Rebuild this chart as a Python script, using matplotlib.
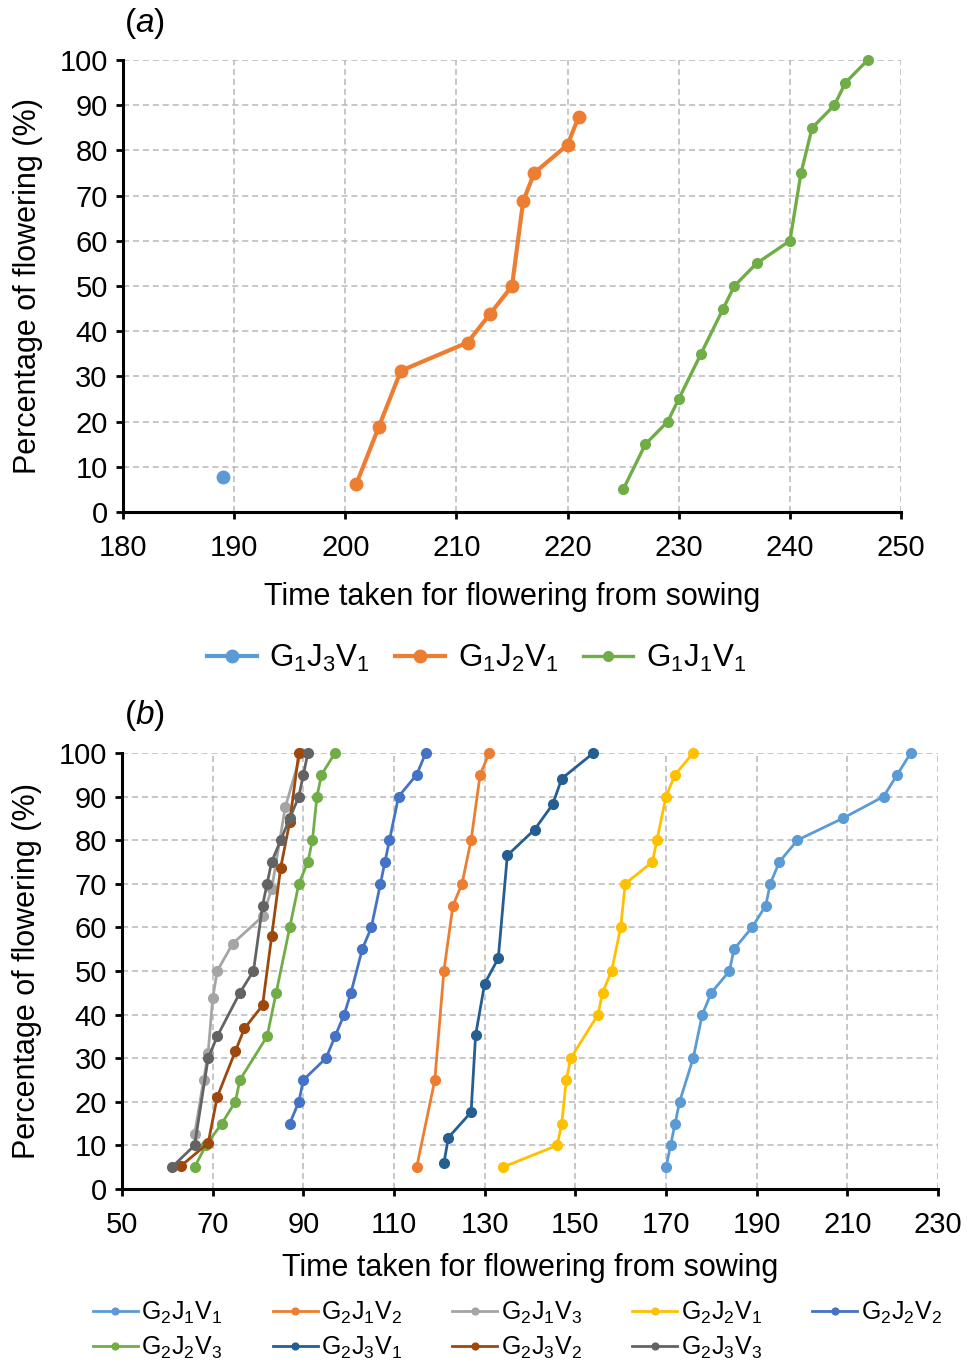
import matplotlib
matplotlib.use("Agg")
import matplotlib.pyplot as plt

plt.rcParams['font.family'] = ['Liberation Sans', 'DejaVu Sans']
plt.rcParams['mathtext.fontset'] = 'custom'
plt.rcParams['mathtext.rm'] = 'Liberation Sans'
plt.rcParams['mathtext.it'] = 'Liberation Sans:italic'
plt.rcParams['mathtext.default'] = 'regular'

# ---- panel (a) data ----
a_labels = [r'G$_1$J$_3$V$_1$', r'G$_1$J$_2$V$_1$', r'G$_1$J$_1$V$_1$']
a_colors = ['#5B9BD5', '#ED7D31', '#70AD47']
g1j3v1_days = [189]
g1j3v1_pct = [7.7]
g1j2v1_days = [201, 203, 205, 211, 213, 215, 216, 217, 220, 221]
g1j2v1_pct = [6.25, 18.75, 31.25, 37.5, 43.75, 50, 68.75, 75, 81.25, 87.5]
g1j1v1_days = [225, 227, 229, 230, 232, 234, 235, 237, 240, 241, 242, 244, 245, 247]
g1j1v1_pct = [5, 15, 20, 25, 35, 45, 50, 55, 60, 75, 85, 90, 95, 100]

# ---- panel (b) data ----
b_labels = [r'G$_2$J$_1$V$_1$', r'G$_2$J$_1$V$_2$', r'G$_2$J$_1$V$_3$',
            r'G$_2$J$_2$V$_1$', r'G$_2$J$_2$V$_2$', r'G$_2$J$_2$V$_3$',
            r'G$_2$J$_3$V$_1$', r'G$_2$J$_3$V$_2$', r'G$_2$J$_3$V$_3$']
b_colors = ['#5B9BD5', '#ED7D31', '#A5A5A5', '#FFC000', '#4472C4',
            '#70AD47', '#255E91', '#9E480E', '#636363']

g2j1v1_days = [170, 171, 172, 173, 176, 178, 180, 184, 185, 189, 192, 193, 195, 199, 209, 218, 221, 224]
g2j1v1_pct = [5, 10, 15, 20, 30, 40, 45, 50, 55, 60, 65, 70, 75, 80, 85, 90, 95, 100]
g2j1v2_days = [115, 119, 121, 123, 125, 127, 129, 131]
g2j1v2_pct = [5, 25, 50, 65, 70, 80, 95, 100]
g2j1v3_days = [66, 68, 69, 70, 71, 74.4, 81, 83, 86, 89.5]
g2j1v3_pct = [12.5, 25, 31.25, 43.75, 50, 56.25, 62.5, 68.75, 87.5, 100]
g2j2v1_days = [134, 146, 147, 148, 149, 155, 156, 158, 160, 161, 167, 168, 170, 172, 176]
g2j2v1_pct = [5, 10, 15, 25, 30, 40, 45, 50, 60, 70, 75, 80, 90, 95, 100]
g2j2v2_days = [87, 89, 90, 95, 97, 99, 100.5, 103, 105, 107, 108, 109, 111, 115, 117]
g2j2v2_pct = [15, 20, 25, 30, 35, 40, 45, 55, 60, 70, 75, 80, 90, 95, 100]
g2j2v3_days = [66, 68.5, 72, 75, 76, 82, 84, 87, 89, 91, 92, 93, 94, 97]
g2j2v3_pct = [5, 10, 15, 20, 25, 35, 45, 60, 70, 75, 80, 90, 95, 100]
g2j3v1_days = [121, 122, 127, 128, 130, 133, 135, 141, 145, 147, 154]
g2j3v1_pct = [5.9, 11.8, 17.6, 35.3, 47.1, 52.9, 76.5, 82.4, 88.2, 94.1, 100]
g2j3v2_days = [63, 69, 71, 75, 77, 81, 83, 85, 87, 89]
g2j3v2_pct = [5.3, 10.5, 21.1, 31.6, 36.8, 42.1, 57.9, 73.7, 84.2, 100]
g2j3v3_days = [61, 66, 69, 71, 76, 79, 81, 82, 83, 85, 87, 89, 90, 91]
g2j3v3_pct = [5, 10, 30, 35, 45, 50, 65, 70, 75, 80, 85, 90, 95, 100]

b_days = [g2j1v1_days, g2j1v2_days, g2j1v3_days, g2j2v1_days, g2j2v2_days,
          g2j2v3_days, g2j3v1_days, g2j3v2_days, g2j3v3_days]
b_pct = [g2j1v1_pct, g2j1v2_pct, g2j1v3_pct, g2j2v1_pct, g2j2v2_pct,
         g2j2v3_pct, g2j3v1_pct, g2j3v2_pct, g2j3v3_pct]


def style_axes(ax, xlim, xstep):
    ax.set_xlim(*xlim)
    ax.set_ylim(0, 100)
    ax.set_xticks(range(xlim[0], xlim[1] + 1, xstep))
    ax.set_yticks(range(0, 101, 10))
    ax.grid(True, color='#B8B8B8', linestyle=(0, (4, 2.5)), linewidth=1.1)
    ax.set_axisbelow(True)
    for s in ['top', 'right']:
        ax.spines[s].set_visible(False)
    for s in ['left', 'bottom']:
        ax.spines[s].set_linewidth(2.2)
    ax.tick_params(direction='out', length=5, width=2, labelsize=21)
    ax.tick_params(axis='x', pad=11)
    ax.tick_params(axis='y', pad=6)
    ax.set_xlabel('Time taken for flowering from sowing', fontsize=22, labelpad=14)
    ax.set_ylabel('Percentage of flowering (%)', fontsize=22, labelpad=12)


fig = plt.figure(figsize=(9.67, 13.61), dpi=100)

# panel (a)
ax1 = fig.add_axes([0.1272, 0.6238, 0.8046, 0.3321])
ax1.plot(g1j3v1_days, g1j3v1_pct, color=a_colors[0], marker='o', markersize=9,
         linewidth=3, label=a_labels[0], clip_on=False)
ax1.plot(g1j2v1_days, g1j2v1_pct, color=a_colors[1], marker='o', markersize=9,
         linewidth=3, label=a_labels[1], clip_on=False)
ax1.plot(g1j1v1_days, g1j1v1_pct, color=a_colors[2], marker='o', markersize=7,
         linewidth=2.4, label=a_labels[2], clip_on=False)
style_axes(ax1, (180, 250), 10)
fig.text(0.128, 0.983, r'($\mathit{a}$)', fontsize=24, va='center', ha='left')
h1, l1 = ax1.get_legend_handles_labels()
fig.legend(h1, l1, loc='center', bbox_to_anchor=(0.493, 0.516), ncol=3,
           frameon=False, fontsize=22.5, handlelength=1.6, columnspacing=0.8,
           handletextpad=0.4)

# panel (b)
ax2 = fig.add_axes([0.1262, 0.1264, 0.8438, 0.3204])
for days, pct, col, lab in zip(b_days, b_pct, b_colors, b_labels):
    ax2.plot(days, pct, color=col, marker='o', markersize=7, linewidth=2,
             label=lab, clip_on=False)
style_axes(ax2, (50, 230), 20)
ax2.xaxis.labelpad = 10
fig.text(0.128, 0.474, r'($\mathit{b}$)', fontsize=24, va='center', ha='left')
h2, l2 = ax2.get_legend_handles_labels()
order = [0, 5, 1, 6, 2, 7, 3, 8, 4]
fig.legend([h2[i] for i in order], [l2[i] for i in order], loc='center',
           bbox_to_anchor=(0.535, 0.0225), ncol=5, frameon=False, fontsize=18,
           handlelength=1.8, columnspacing=2.0, handletextpad=0.15,
           labelspacing=0.35, markerscale=0.7)

fig.savefig('out.png', dpi=100)
